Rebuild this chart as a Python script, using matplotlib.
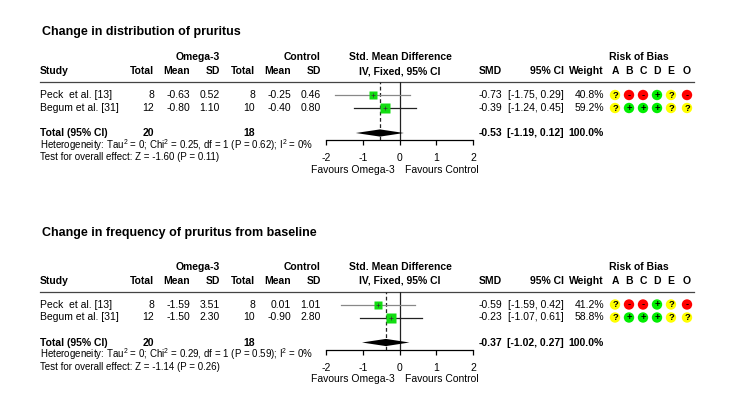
import numpy as np
import matplotlib
matplotlib.use("Agg")
import matplotlib.pyplot as plt

plt.rcParams['font.family'] = ['Liberation Sans', 'DejaVu Sans']
plt.rcParams['mathtext.fontset'] = 'custom'
plt.rcParams['mathtext.rm'] = 'Liberation Sans'
plt.rcParams['axes.unicode_minus'] = False

# ---- data ----
studies = ["Peck  et al. [13]", "Begum et al. [31]"]
omega_n = [8, 12]
ctrl_n = [8, 10]

# panel 1: change in distribution of pruritus
dist_omega_mean = [-0.63, -0.80]
dist_omega_sd = [0.52, 1.10]
dist_ctrl_mean = [-0.25, -0.40]
dist_ctrl_sd = [0.46, 0.80]
dist_smd = [-0.73, -0.39]
dist_lo = [-1.75, -1.24]
dist_hi = [0.29, 0.45]
dist_weight = [40.8, 59.2]
dist_total = (-0.53, -1.19, 0.12)
dist_chi2, dist_p_het = 0.25, 0.62
dist_z, dist_p = -1.60, 0.11

# panel 2: change in frequency of pruritus from baseline
freq_omega_mean = [-1.59, -1.50]
freq_omega_sd = [3.51, 2.30]
freq_ctrl_mean = [0.01, -0.90]
freq_ctrl_sd = [1.01, 2.80]
freq_smd = [-0.59, -0.23]
freq_lo = [-1.59, -1.07]
freq_hi = [0.42, 0.61]
freq_weight = [41.2, 58.8]
freq_total = (-0.37, -1.02, 0.27)
freq_chi2, freq_p_het = 0.29, 0.59
freq_z, freq_p = -1.14, 0.26

bias_domains = ["A", "B", "C", "D", "E", "O"]
bias = [["?", "-", "-", "+", "?", "-"],
        ["?", "+", "+", "+", "?", "?"]]
bias_colors = {"?": "#ffff00", "-": "#ff0000", "+": "#00ee00"}

W, H = 750, 404
fig = plt.figure(figsize=(W / 100, H / 100), dpi=100)
bg = fig.add_axes([0, 0, 1, 1])
bg.set_xlim(0, W)
bg.set_ylim(H, 0)
bg.axis('off')

FS = 7.5
# column right edges (px)
col_x = [154, 190, 220, 255, 291, 321]
bias_x = [615, 629, 643, 657, 671, 687]
fx0, fx1 = 326, 473  # forest axis -2..2


def panel(title, title_y, dy, om, osd, cm, csd, smd, lo, hi, wt, total, chi2, phet, z, pz):
    y_h1, y_h2, y_line = 57 + dy, 71 + dy, 82 + dy
    rows_y = [95 + dy, 108 + dy]
    y_tot, y_het, y_test = 133 + dy, 145 + dy, 157 + dy
    y_axis, y_fav = 140 + dy, 170 + dy

    bg.text(42, title_y, title, fontsize=9, fontweight='bold', va='center')
    bg.text(220, y_h1, "Omega-3", fontsize=FS, fontweight='bold', ha='right', va='center')
    bg.text(321, y_h1, "Control", fontsize=FS, fontweight='bold', ha='right', va='center')
    bg.text(400, y_h1, "Std. Mean Difference", fontsize=FS, fontweight='bold', ha='center', va='center')
    bg.text(639, y_h1, "Risk of Bias", fontsize=FS, fontweight='bold', ha='center', va='center')
    bg.text(40, y_h2, "Study", fontsize=FS, fontweight='bold', va='center')
    for x, lab in zip(col_x, ["Total", "Mean", "SD", "Total", "Mean", "SD"]):
        bg.text(x, y_h2, lab, fontsize=FS, fontweight='bold', ha='right', va='center')
    bg.text(400, y_h2, "IV, Fixed, 95% CI", fontsize=FS, fontweight='bold', ha='center', va='center')
    bg.text(502, y_h2, "SMD", fontsize=FS, fontweight='bold', ha='right', va='center')
    bg.text(564, y_h2, "95% CI", fontsize=FS, fontweight='bold', ha='right', va='center')
    bg.text(604, y_h2, "Weight", fontsize=FS, fontweight='bold', ha='right', va='center')
    for x, lab in zip(bias_x, bias_domains):
        bg.text(x, y_h2, lab, fontsize=FS, fontweight='bold', ha='center', va='center')
    bg.plot([40, 694], [y_line, y_line], color='#444444', lw=0.9)

    for i, y in enumerate(rows_y):
        vals = [f"{omega_n[i]}", f"{om[i]:.2f}", f"{osd[i]:.2f}",
                f"{ctrl_n[i]}", f"{cm[i]:.2f}", f"{csd[i]:.2f}"]
        bg.text(40, y, studies[i], fontsize=FS, va='center')
        for x, v in zip(col_x, vals):
            bg.text(x, y, v, fontsize=FS, ha='right', va='center')
        bg.text(502, y, f"{smd[i]:.2f}", fontsize=FS, ha='right', va='center')
        bg.text(564, y, f"[{lo[i]:.2f}, {hi[i]:.2f}]", fontsize=FS, ha='right', va='center')
        bg.text(604, y, f"{wt[i]:.1f}%", fontsize=FS, ha='right', va='center')
        for x, b in zip(bias_x, bias[i]):
            bg.scatter([x], [y], s=56, color=bias_colors[b], edgecolors='none', zorder=3)
            bg.text(x, y + 0.3, b, fontsize=6.8, fontweight='bold', ha='center', va='center', zorder=4)

    bg.text(40, y_tot, "Total (95% CI)", fontsize=FS, fontweight='bold', va='center')
    bg.text(col_x[0], y_tot, f"{sum(omega_n)}", fontsize=FS, fontweight='bold', ha='right', va='center')
    bg.text(col_x[3], y_tot, f"{sum(ctrl_n)}", fontsize=FS, fontweight='bold', ha='right', va='center')
    bg.text(502, y_tot, f"{total[0]:.2f}", fontsize=FS, fontweight='bold', ha='right', va='center')
    bg.text(564, y_tot, f"[{total[1]:.2f}, {total[2]:.2f}]", fontsize=FS, fontweight='bold', ha='right', va='center')
    bg.text(604, y_tot, f"{sum(wt):.1f}%", fontsize=FS, fontweight='bold', ha='right', va='center')
    bg.text(40, y_het, f"Heterogeneity: Tau$^2$ = 0; Chi$^2$ = {chi2:.2f}, df = 1 (P = {phet:.2f}); I$^2$ = 0%",
            fontsize=7, va='center')
    bg.text(40, y_test, f"Test for overall effect: Z = {z:.2f} (P = {pz:.2f})", fontsize=7, va='center')
    bg.text(395, y_fav, "Favours Omega-3", fontsize=FS, ha='right', va='center')
    bg.text(405, y_fav, "Favours Control", fontsize=FS, ha='left', va='center')

    # forest axes: x in SMD units, y in pixel rows
    fa = fig.add_axes([fx0 / W, 1 - y_axis / H, (fx1 - fx0) / W, (y_axis - y_line) / H])
    fa.set_xlim(-2, 2)
    fa.set_ylim(y_axis, y_line)
    fa.patch.set_visible(False)
    for s in ['top', 'left', 'right']:
        fa.spines[s].set_visible(False)
    fa.spines['bottom'].set_linewidth(0.9)
    fa.set_yticks([])
    fa.set_xticks([-2, -1, 0, 1, 2])
    fa.set_xticklabels(["-2", "-1", "0", "1", "2"])
    fa.tick_params(axis='x', direction='out', length=3.5, width=0.9, labelsize=FS, pad=6)
    fa.axvline(0, color='#222222', lw=0.9)
    fa.axvline(total[0], color='#222222', lw=0.9, ls=(0, (3, 2)))
    line_cols = ['#888888', '#222222']
    for i, y in enumerate(rows_y):
        fa.plot([lo[i], hi[i]], [y, y], color=line_cols[i], lw=0.9, zorder=2)
        ms = 1.35 * np.sqrt(wt[i]) * 0.72
        fa.plot([smd[i]], [y], marker='s', ms=ms, color='#11dd11', mec='none', zorder=3)
        fa.plot([smd[i]], [y], marker='+', ms=3, color='#333333', mew=0.5, zorder=4)
    fa.fill([total[1], total[0], total[2], total[0]],
            [y_tot, y_tot - 3.6, y_tot, y_tot + 3.6], color='black', lw=0, zorder=3)


panel("Change in distribution of pruritus", 32, 0,
      dist_omega_mean, dist_omega_sd, dist_ctrl_mean, dist_ctrl_sd,
      dist_smd, dist_lo, dist_hi, dist_weight, dist_total,
      dist_chi2, dist_p_het, dist_z, dist_p)
panel("Change in frequency of pruritus from baseline", 233, 209.5,
      freq_omega_mean, freq_omega_sd, freq_ctrl_mean, freq_ctrl_sd,
      freq_smd, freq_lo, freq_hi, freq_weight, freq_total,
      freq_chi2, freq_p_het, freq_z, freq_p)

fig.savefig("out.png", dpi=100)
